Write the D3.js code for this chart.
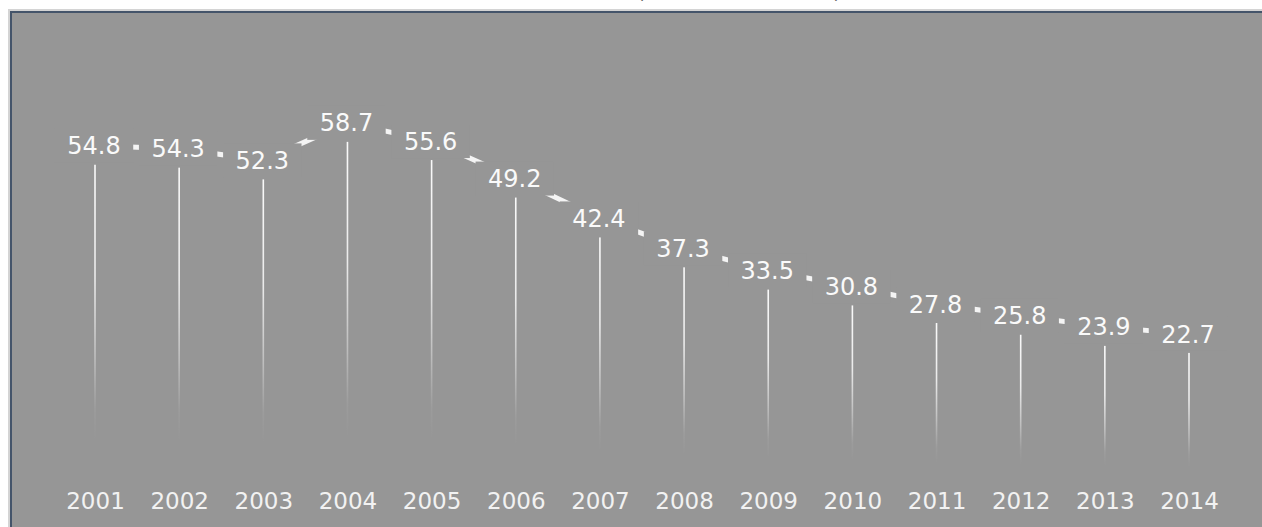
<!DOCTYPE html>
<html>
<head>
<meta charset="utf-8">
<script src="https://cdn.jsdelivr.net/npm/d3@7"></script>
<style>
  body { margin: 0; background: #ffffff; }
  svg { display: block; }
  text { font-family: "DejaVu Sans", Verdana, sans-serif; }
</style>
</head>
<body>
<svg id="chart" width="1262" height="527"></svg>
<script>
const years = ["2001", "2002", "2003", "2004", "2005", "2006", "2007",
               "2008", "2009", "2010", "2011", "2012", "2013", "2014"];
const values = [54.8, 54.3, 52.3, 58.7, 55.6, 49.2, 42.4,
                37.3, 33.5, 30.8, 27.8, 25.8, 23.9, 22.7];

const width = 1262;
const height = 527;
const bg = "#969696";
const labelLift = 19;   // label centre above the top of each stalk
const padX = 12.5;      // label box padding
const boxH = 34;

const svg = d3.select("#chart");

// frame: light strip, dark border, grey plot area
svg.append("rect").attr("x", 8).attr("y", 9).attr("width", width).attr("height", height).attr("fill", "#d4d4d4");
svg.append("rect").attr("x", 10).attr("y", 11).attr("width", width).attr("height", height).attr("fill", "#44546a");
svg.append("rect").attr("x", 12).attr("y", 13).attr("width", width).attr("height", height).attr("fill", bg);

// bottom of a title cut off above the frame
svg.append("text").attr("x", 641).attr("y", -1).attr("text-anchor", "middle")
    .attr("font-size", 18).attr("fill", "#666").text("(");
svg.append("text").attr("x", 837).attr("y", -1).attr("text-anchor", "middle")
    .attr("font-size", 18).attr("fill", "#666").text(")");

const x = d3.scalePoint().domain(years).range([95, 1189]);
const y = d3.scaleLinear().domain([0, 80]).range([486, 17]);

const data = years.map((yr, i) => ({ year: yr, value: values[i] }));

// fading gradient for the stalks
const grad = svg.append("defs").append("linearGradient")
    .attr("id", "fade")
    .attr("x1", 0).attr("y1", 0).attr("x2", 0).attr("y2", 1);
grad.append("stop").attr("offset", "0%").attr("stop-color", "#fff").attr("stop-opacity", 0.95);
grad.append("stop").attr("offset", "35%").attr("stop-color", "#fff").attr("stop-opacity", 0.8);
grad.append("stop").attr("offset", "60%").attr("stop-color", "#fff").attr("stop-opacity", 0.38);
grad.append("stop").attr("offset", "76%").attr("stop-color", "#fff").attr("stop-opacity", 0.06);
grad.append("stop").attr("offset", "86%").attr("stop-color", "#fff").attr("stop-opacity", 0);

svg.append("g").selectAll("rect")
    .data(data)
    .enter()
    .append("rect")
    .attr("x", d => x(d.year) - 0.8)
    .attr("y", d => y(d.value))
    .attr("width", 1.6)
    .attr("height", d => y(0) - y(d.value))
    .attr("fill", "url(#fade)");

// connecting line through the label centres (mostly hidden by label boxes)
const line = d3.line()
    .x(d => x(d.year))
    .y(d => y(d.value) - labelLift);

svg.append("path")
    .datum(data)
    .attr("fill", "none")
    .attr("stroke", "#f4f4f4")
    .attr("stroke-width", 5)
    .attr("d", line);

const label = svg.append("g").selectAll("g")
    .data(data)
    .enter()
    .append("g")
    .attr("transform", d => "translate(" + (x(d.year) - 1) + "," + (y(d.value) - labelLift) + ")");

const boxes = label.append("rect").attr("fill", bg);

label.append("text")
    .attr("text-anchor", "middle")
    .attr("y", 8.6)
    .attr("font-size", 24)
    .attr("fill", "#fafafa")
    .text(d => d.value.toFixed(1))
    .each(function(d) {
        d.tw = this.getComputedTextLength();
    });

boxes
    .attr("x", d => -d.tw / 2 - padX)
    .attr("y", -boxH / 2)
    .attr("width", d => d.tw + padX * 2)
    .attr("height", boxH);

// year axis
const axis = svg.append("g")
    .attr("transform", "translate(0," + y(0) + ")")
    .call(d3.axisBottom(x).tickSize(0).tickPadding(7));
axis.select(".domain").remove();
axis.selectAll("text")
    .attr("font-size", 23)
    .attr("font-family", "DejaVu Sans, Verdana, sans-serif")
    .attr("fill", "#f2f2f2");
</script>
</body>
</html>
